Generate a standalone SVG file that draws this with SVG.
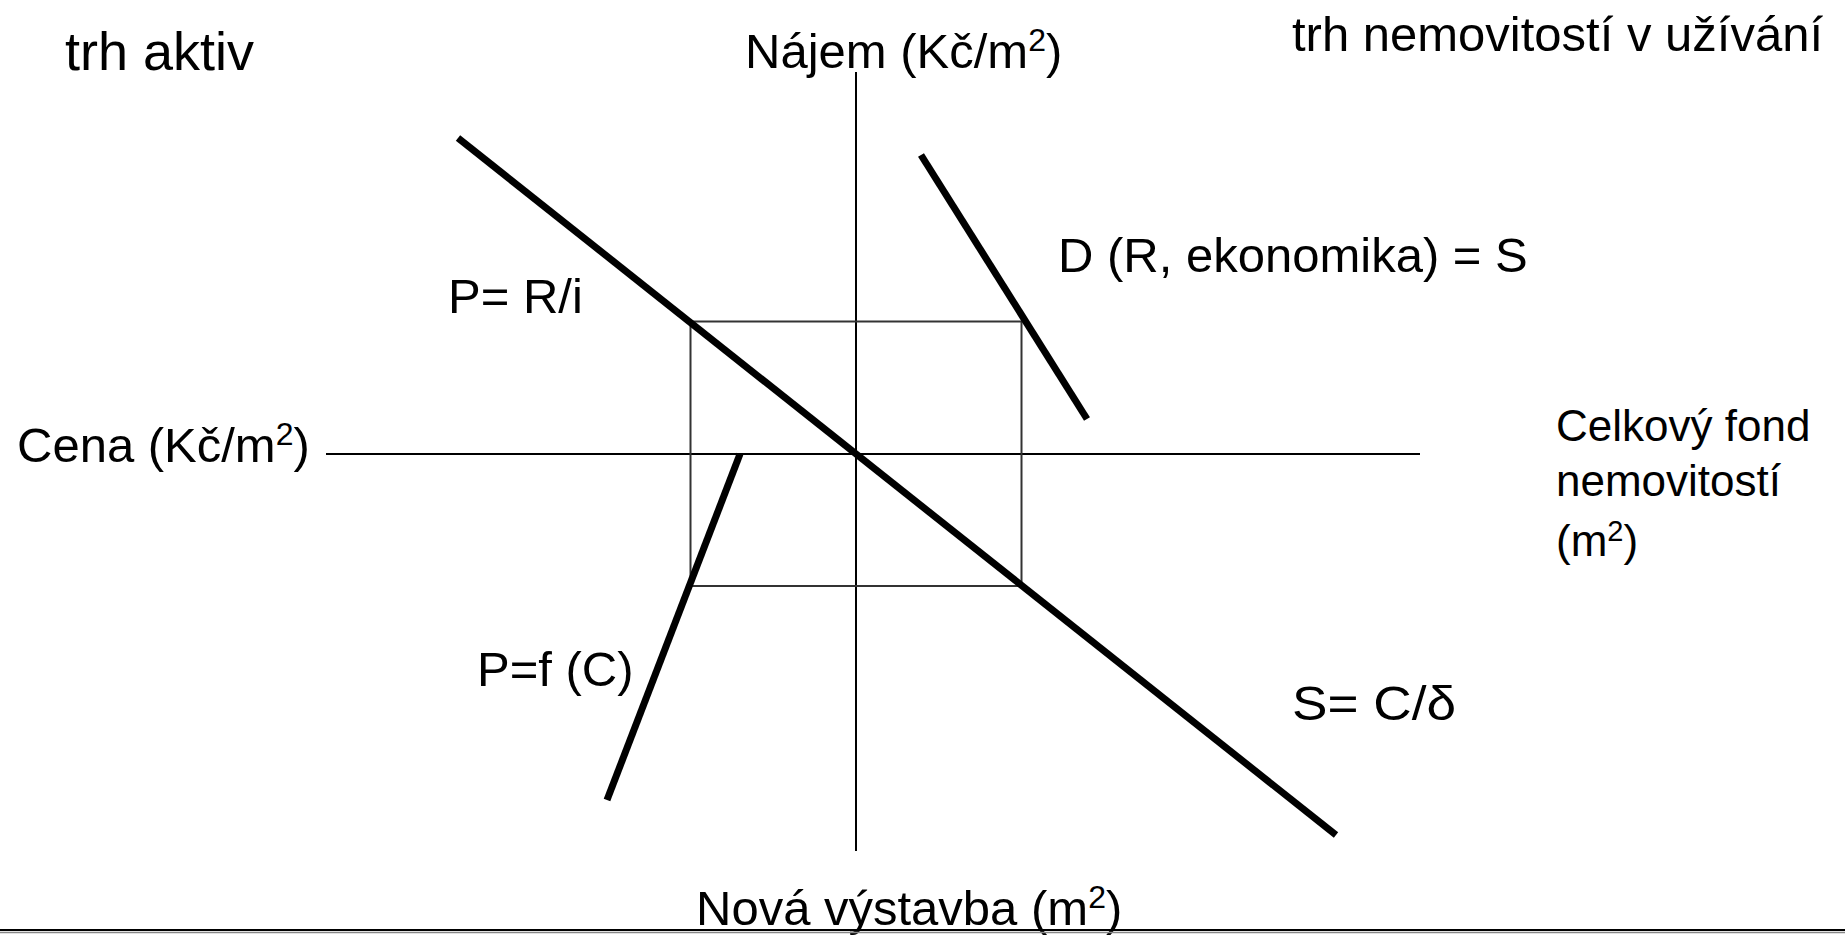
<svg xmlns="http://www.w3.org/2000/svg" width="1845" height="936" viewBox="0 0 1845 936">
<style>
text{font-family:"Liberation Sans",Arial,sans-serif;fill:#000;font-size:49px}
.big{font-size:54px}
.small{font-size:44px}
.axis{stroke:#000;stroke-width:2;fill:none}
.rect{stroke:#333;stroke-width:2;fill:none}
.curve{stroke:#000;stroke-width:7;fill:none}
</style>
<rect x="0" y="0" width="1845" height="936" fill="#fff"/>
<g id="axes">
<line class="axis" x1="856" y1="72" x2="856" y2="851"/>
<line class="axis" x1="326" y1="454" x2="1420" y2="454"/>
</g>
<g id="frame">
<rect class="rect" x="690.5" y="321.5" width="331" height="264.5"/>
</g>
<g id="connectors">
<line class="curve" x1="458" y1="138" x2="1336" y2="835"/>
<line class="curve" x1="921" y1="155" x2="1087" y2="419"/>
<line class="curve" x1="740" y1="454" x2="607" y2="800"/>
</g>
<g id="labels">
<text class="big" x="65" y="70">trh aktiv</text>
<text x="745" y="68">Nájem (Kč/m<tspan font-size="32" dy="-17">2</tspan><tspan dy="17">)</tspan></text>
<text x="1292" y="51" font-size="48">trh nemovitostí v užívání</text>
<text x="1058" y="272">D (R, ekonomika) = S</text>
<text x="448" y="313">P= R/i</text>
<text x="17" y="462">Cena (Kč/m<tspan font-size="32" dy="-17">2</tspan><tspan dy="17">)</tspan></text>
<text class="small" x="1556" y="441">Celkový fond</text>
<text class="small" x="1556" y="496">nemovitostí</text>
<text class="small" x="1556" y="556">(m<tspan font-size="29" dy="-15">2</tspan><tspan dy="15">)</tspan></text>
<text x="477" y="686">P=f (C)</text>
<text x="1292" y="720" font-size="53" textLength="164" lengthAdjust="spacingAndGlyphs">S= C/δ</text>
<text x="696" y="925">Nová výstavba (m<tspan font-size="32" dy="-17">2</tspan><tspan dy="17">)</tspan></text>
</g>
<g id="border">
<line x1="0" y1="930" x2="1845" y2="930" stroke="#000" stroke-width="2"/>
<line x1="0" y1="932.5" x2="1845" y2="932.5" stroke="#888" stroke-width="1.5"/>
</g>
</svg>
